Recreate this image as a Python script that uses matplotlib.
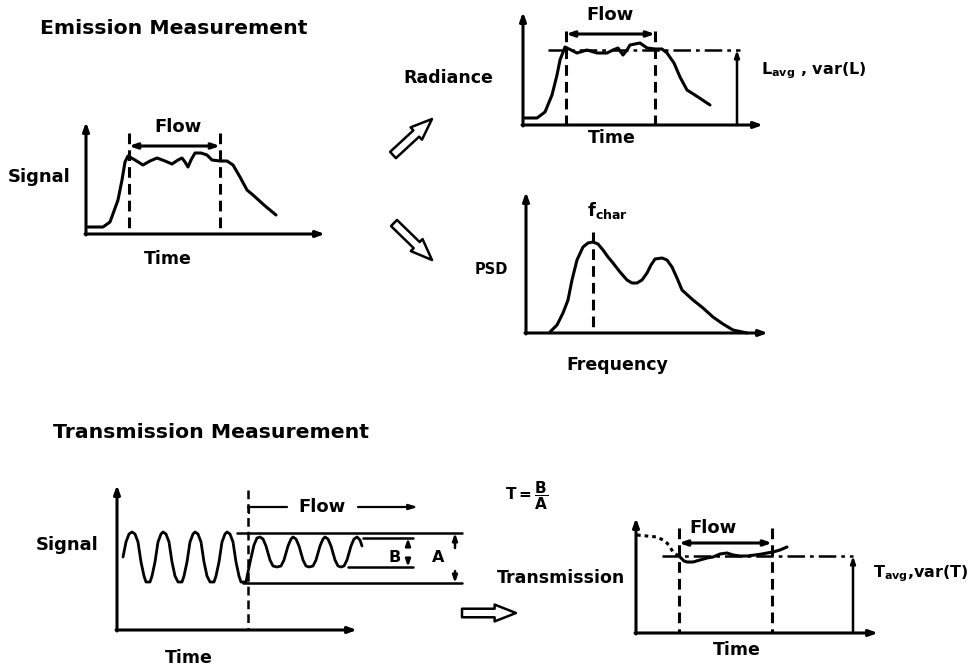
import numpy as np
import matplotlib.pyplot as plt

plt.rcParams['font.family'] = ['DejaVu Sans']
plt.rcParams['font.weight'] = 'bold'
plt.rcParams['mathtext.fontset'] = 'dejavusans'

W, H = 979, 670

# ---- data (panel units: time / value from each panel's origin) ----
# emission signal
em_t = [2, 17, 24, 32, 36, 39, 42, 49, 57, 64, 71, 79, 86, 92, 96, 99, 102, 105, 109,
        115, 121, 126, 134, 141, 147, 154, 161, 167, 178, 190]
em_s = [7, 7, 12, 34, 54, 72, 78, 74, 69, 73, 76, 73, 70, 74, 76, 72, 67, 74, 81,
        81, 79, 74, 73, 73, 69, 57, 44, 39, 29, 19]
em_flow = [43, 134]

# radiance
rad_t = [2, 14, 22, 29, 34, 37, 42, 48, 54, 64, 74, 84, 90, 95, 100, 104, 107, 117,
         124, 132, 139, 144, 151, 157, 164, 175, 187]
rad_s = [7, 7, 13, 30, 50, 65, 78, 75, 72, 75, 72, 72, 75, 77, 70, 75, 80, 82,
         77, 76, 76, 72, 62, 48, 35, 28, 20]
rad_flow = [43, 132]
rad_avg = 75

# power spectral density
psd_f = [24, 31, 37, 42, 46, 51, 57, 62, 67, 72, 77, 82, 87, 94, 101, 106, 111, 116,
         121, 125, 129, 136, 141, 146, 151, 156, 167, 177, 187, 197, 207, 221]
psd_p = [1, 8, 20, 33, 53, 73, 86, 90, 91, 89, 83, 76, 70, 61, 53, 50, 50, 53,
         60, 68, 74, 75, 73, 66, 55, 43, 33, 25, 16, 9, 3, 0]
f_char = 67

# transmission signal (chopped beam)
tr_t = [6, 9, 12, 15, 18, 21, 24, 27, 29, 33, 35, 38, 41, 44, 46, 49, 52, 55, 58, 61,
        65, 67, 70, 73, 76, 78, 81, 84, 87, 90, 93, 97, 99, 102, 105, 108, 110, 113,
        116, 119, 122, 124, 129,
        131, 134, 137, 140, 143, 146, 149, 153, 156, 160, 164, 167, 171, 174, 176, 179,
        182, 186, 189, 192, 196, 199, 203, 206, 208, 211, 214, 218, 221, 224, 227, 230,
        234, 237, 240, 243, 245]
tr_s = [73, 88, 96, 98, 96, 88, 68, 54, 48, 48, 54, 68, 88, 96, 98, 96, 88, 68, 54, 48,
        48, 54, 68, 88, 96, 98, 96, 88, 68, 54, 48, 48, 54, 68, 88, 96, 98, 96,
        88, 68, 54, 48, 48,
        58, 72, 85, 92, 93, 91, 84, 70, 64, 63, 64, 70, 84, 91, 93, 91,
        84, 70, 64, 63, 64, 70, 84, 91, 93, 91, 84, 70, 64, 63, 64, 70,
        84, 91, 93, 90, 84]
tr_start = 131
A_hi, A_lo = 97, 47
B_hi, B_lo = 92, 63

# transmission vs time
tx_pre_t = [1, 11, 21, 27, 31, 34, 37, 41, 44]
tx_pre_s = [98, 97, 96, 93, 90, 86, 81, 78, 76]
tx_t = [44, 48, 51, 57, 64, 71, 77, 84, 91, 97, 104, 111, 119, 126, 131, 137, 144, 151]
tx_s = [76, 72, 71, 71, 73, 75, 76, 79, 80, 78, 77, 77, 78, 79, 80, 81, 83, 86]
tx_flow = [43, 136]
tx_avg = 77

LW = 2.2
FS = 12.5
fig = plt.figure(figsize=(W / 100, H / 100), dpi=100)
bg = fig.add_axes([0, 0, 1, 1])
bg.set_xlim(0, W)
bg.set_ylim(H, 0)
bg.axis('off')


def panel(x0, y0, w, h):
    ax = fig.add_axes([x0 / W, 1 - y0 / H, w / W, h / H])
    ax.set_xlim(0, w)
    ax.set_ylim(0, h)
    ax.axis('off')
    ap = dict(arrowstyle='-|>,head_length=0.5,head_width=0.18', lw=LW, color='black',
              shrinkA=0, shrinkB=0)
    ax.annotate('', xy=(w, 0), xytext=(-1, 0), arrowprops=ap, annotation_clip=False)
    ax.annotate('', xy=(0, h), xytext=(0, -1), arrowprops=ap, annotation_clip=False)
    return ax


def line(ax, x, y, **kw):
    kw.setdefault('color', 'black')
    kw.setdefault('lw', LW)
    ax.plot(x, y, clip_on=False, solid_capstyle='round', solid_joinstyle='round', **kw)


def flow_arrow(ax, x1, x2, y):
    ax.annotate('', xy=(x2, y), xytext=(x1, y), annotation_clip=False,
                arrowprops=dict(arrowstyle='<|-|>,head_length=0.45,head_width=0.16',
                                lw=LW, color='black', shrinkA=0, shrinkB=0))


def vdim(ax, x, y1, y2):
    ax.annotate('', xy=(x, y2), xytext=(x, y1), annotation_clip=False,
                arrowprops=dict(arrowstyle='-|>,head_length=0.4,head_width=0.14',
                                lw=LW - 0.4, color='black', shrinkA=0, shrinkB=0))


DASH = (0, (3.5, 2))
DASHDOT = (0, (7, 2, 1.5, 2))

# ---- emission: signal ----
ax1 = panel(86, 234, 239, 112)
line(ax1, em_t, em_s)
for t in em_flow:
    line(ax1, [t, t], [101, 0], ls=DASH)
flow_arrow(ax1, em_flow[0], em_flow[1], 88)
ax1.text(92, 107, 'Flow', ha='center', va='center', fontsize=13)

# ---- emission: radiance ----
ax2 = panel(523, 125, 240, 113)
line(ax2, rad_t, rad_s)
for t in rad_flow:
    line(ax2, [t, t], [94, 0], ls=DASH)
flow_arrow(ax2, rad_flow[0], rad_flow[1], 91)
line(ax2, [25, 217], [rad_avg, rad_avg], ls=DASHDOT, lw=LW - 0.4)
vdim(ax2, 214, 0, rad_avg)
ax2.text(87, 110, 'Flow', ha='center', va='center', fontsize=13)

# ---- emission: PSD ----
ax3 = panel(526, 333, 242, 141)
line(ax3, psd_f, psd_p)
line(ax3, [f_char, f_char], [101, 0], ls=DASH)
ax3.text(f_char - 6, 123, r'$\mathbf{f_{char}}$', ha='left', va='center', fontsize=13)

# ---- transmission: signal ----
ax4 = panel(117, 630, 240, 145)
line(ax4, tr_t, tr_s, lw=LW - 0.2)
line(ax4, [tr_start, tr_start], [140, 0], ls=DASH, lw=LW - 0.4)
line(ax4, [120, 345], [A_hi, A_hi], lw=LW - 0.4)
line(ax4, [126, 345], [A_lo, A_lo], lw=LW - 0.4)
line(ax4, [246, 296], [B_hi, B_hi], lw=LW - 0.4)
line(ax4, [231, 296], [B_lo, B_lo], lw=LW - 0.4)
vdim(ax4, 291, 83, B_hi)
vdim(ax4, 291, 72, B_lo)
vdim(ax4, 338, 82, A_hi)
vdim(ax4, 338, 59, A_lo)
ax4.text(278, 73, 'B', ha='center', va='center', fontsize=11.5)
ax4.text(321, 72, 'A', ha='center', va='center', fontsize=11.5)
line(ax4, [tr_start, 170], [123, 123], lw=LW - 0.6)
line(ax4, [tr_start + 1, tr_start + 1], [117, 123], lw=LW - 0.6)
ax4.annotate('', xy=(301, 123), xytext=(241, 123), annotation_clip=False,
             arrowprops=dict(arrowstyle='-|>,head_length=0.5,head_width=0.15',
                             lw=LW - 0.6, color='black', shrinkA=0, shrinkB=0))
ax4.text(205, 123, 'Flow', ha='center', va='center', fontsize=13)

# ---- transmission vs time ----
ax5 = panel(636, 633, 242, 115)
line(ax5, tx_pre_t, tx_pre_s, ls=(0, (1.2, 1.3)), lw=LW)
line(ax5, tx_t, tx_s)
for t in tx_flow:
    line(ax5, [t, t], [105, 0], ls=DASH)
flow_arrow(ax5, tx_flow[0], tx_flow[1], 90)
line(ax5, [26, 217], [tx_avg, tx_avg], ls=DASHDOT, lw=LW - 0.4)
vdim(ax5, 217, 0, tx_avg)
ax5.text(77, 105, 'Flow', ha='center', va='center', fontsize=13)

# ---- labels and arrows (figure pixel space) ----
bg.text(40, 28, 'Emission Measurement', fontsize=14.7, va='center', ha='left')
bg.text(53, 432, 'Transmission Measurement', fontsize=14.7, va='center', ha='left')
bg.text(71, 177, 'Signal', fontsize=13, ha='right', va='center')
bg.text(168, 259, 'Time', fontsize=FS, ha='center', va='center')
bg.text(493, 78, 'Radiance', fontsize=FS, ha='right', va='center')
bg.text(612, 138, 'Time', fontsize=FS, ha='center', va='center')
bg.text(761, 71, r'$\mathbf{L_{avg}}$ , var(L)', fontsize=11.5, ha='left', va='center')
bg.text(508, 269, 'PSD', fontsize=10.5, ha='right', va='center')
bg.text(617, 365, 'Frequency', fontsize=FS, ha='center', va='center')
bg.text(99, 545, 'Signal', fontsize=13, ha='right', va='center')
bg.text(189, 658, 'Time', fontsize=FS, ha='center', va='center')
bg.text(505, 496, r'$\mathbf{T=\dfrac{B}{A}}$', fontsize=11, ha='left', va='center')
bg.text(561, 578, 'Transmission', fontsize=FS, ha='center', va='center')
bg.text(737, 650, 'Time', fontsize=FS, ha='center', va='center')
bg.text(873, 574, r'$\mathbf{T_{avg}}$,var(T)', fontsize=11.5, ha='left', va='center')

hollow = dict(arrowstyle='simple,head_length=0.7,head_width=0.55,tail_width=0.28',
              fc='white', ec='black', lw=1.8, shrinkA=0, shrinkB=0, mutation_scale=22)
bg.annotate('', xy=(432, 119), xytext=(393, 155), arrowprops=hollow)
bg.annotate('', xy=(432, 260), xytext=(394, 223), arrowprops=hollow)
bg.annotate('', xy=(516, 613), xytext=(462, 613), arrowprops=hollow)

fig.savefig('out.png', dpi=100, facecolor='white')
